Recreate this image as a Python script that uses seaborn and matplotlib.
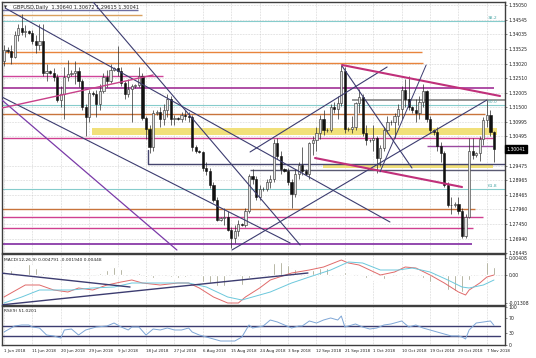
import numpy as np
import matplotlib
matplotlib.use("Agg")
import matplotlib.pyplot as plt
import matplotlib.transforms as mtransforms
import seaborn as sns

# ---------------- data (GBPUSD daily, bars incl. Sunday bars) ----------------
opens = [1.3310, 1.3350, 1.3345, 1.3325, 1.3400, 1.3425, 1.3410, 1.3415, 1.3408, 1.3380,
         1.3365, 1.3380, 1.3270, 1.3275, 1.3270, 1.3255, 1.3175, 1.3195, 1.3255, 1.3265,
         1.3270, 1.3275, 1.3240, 1.3150, 1.3115, 1.3200, 1.3195, 1.3160, 1.3205, 1.3255,
         1.3240, 1.3280, 1.3285, 1.3275, 1.3235, 1.3195, 1.3215, 1.3225, 1.3228, 1.3260,
         1.3113, 1.3075, 1.3012, 1.3130, 1.3135, 1.3110, 1.3140, 1.3180, 1.3110, 1.3112,
         1.3110, 1.3125, 1.3120, 1.3118, 1.3012, 1.2998, 1.2995, 1.2940, 1.2930, 1.2880,
         1.2830, 1.2760, 1.2765, 1.2770, 1.2725, 1.2695, 1.2720, 1.2745, 1.2742, 1.2790,
         1.2910, 1.2900, 1.2838, 1.2865, 1.2868, 1.2890, 1.2900, 1.3025, 1.2980, 1.2935,
         1.2930, 1.2890, 1.2850, 1.2920, 1.2950, 1.2928, 1.2920, 1.3025, 1.3035, 1.3060,
         1.3110, 1.3070, 1.3073, 1.3150, 1.3145, 1.3165, 1.3275, 1.3075, 1.3076, 1.3080,
         1.3165, 1.3185, 1.3060, 1.3035, 1.3038, 1.3045, 1.2975, 1.3010, 1.3070, 1.3100,
         1.3098, 1.3120, 1.3145, 1.3210, 1.3180, 1.3150, 1.3140, 1.3130, 1.3170, 1.3205,
         1.3110, 1.3070, 1.3065, 1.3015, 1.2990, 1.2880, 1.2810, 1.2812, 1.2815, 1.2790,
         1.2705, 1.2770, 1.3000, 1.2985, 1.2990, 1.3040, 1.3105, 1.3125, 1.30640]
highs = [1.3365, 1.3358, 1.3365, 1.3415, 1.3440, 1.3473, 1.3435, 1.3420, 1.3420, 1.3400,
         1.3440, 1.3440, 1.3300, 1.3280, 1.3285, 1.3265, 1.3225, 1.3290, 1.3315, 1.3280,
         1.3310, 1.3290, 1.3250, 1.3160, 1.3210, 1.3208, 1.3210, 1.3230, 1.3270, 1.3280,
         1.3300, 1.3290, 1.3363, 1.3290, 1.3240, 1.3250, 1.3230, 1.3232, 1.3290, 1.3270,
         1.3120, 1.3090, 1.3140, 1.3140, 1.3150, 1.3160, 1.3195, 1.3190, 1.3125, 1.3118,
         1.3135, 1.3140, 1.3135, 1.3125, 1.3020, 1.3002, 1.3000, 1.2960, 1.2940, 1.2890,
         1.2840, 1.2770, 1.2800, 1.2790, 1.2735, 1.2740, 1.2760, 1.2750, 1.2800, 1.2920,
         1.2935, 1.2910, 1.2880, 1.2872, 1.2900, 1.2915, 1.3040, 1.3043, 1.3000, 1.2940,
         1.2940, 1.2900, 1.2935, 1.2960, 1.3012, 1.2935, 1.3030, 1.3050, 1.3080, 1.3125,
         1.3140, 1.3078, 1.3160, 1.3170, 1.3190, 1.3298, 1.3290, 1.3082, 1.3120, 1.3170,
         1.3215, 1.3195, 1.3090, 1.3040, 1.3090, 1.3050, 1.3020, 1.3080, 1.3120, 1.3105,
         1.3130, 1.3160, 1.3225, 1.3250, 1.3258, 1.3155, 1.3180, 1.3190, 1.3230, 1.3210,
         1.3120, 1.3075, 1.3080, 1.3030, 1.3000, 1.2890, 1.2840, 1.2820, 1.2840, 1.2800,
         1.2780, 1.3045, 1.3045, 1.2995, 1.3050, 1.3115, 1.3175, 1.3140, 1.30672]
lows = [1.3295, 1.3340, 1.3300, 1.3320, 1.3380, 1.3400, 1.3395, 1.3405, 1.3370, 1.3340,
        1.3350, 1.3260, 1.3240, 1.3265, 1.3240, 1.3170, 1.3150, 1.3110, 1.3240, 1.3258,
        1.3230, 1.3220, 1.3140, 1.3050, 1.3100, 1.3190, 1.3115, 1.3140, 1.3200, 1.3220,
        1.3235, 1.3275, 1.3260, 1.3225, 1.3180, 1.3185, 1.3100, 1.3218, 1.3220, 1.3105,
        1.3040, 1.2990, 1.3000, 1.3125, 1.3080, 1.3090, 1.3115, 1.3090, 1.3090, 1.3105,
        1.3100, 1.3105, 1.3100, 1.3000, 1.2990, 1.2990, 1.2930, 1.2915, 1.2870, 1.2820,
        1.2755, 1.2755, 1.2740, 1.2720, 1.2662, 1.2680, 1.2705, 1.2738, 1.2735, 1.2785,
        1.2885, 1.2830, 1.2830, 1.2858, 1.2860, 1.2870, 1.2890, 1.2970, 1.2920, 1.2925,
        1.2880, 1.2800, 1.2840, 1.2900, 1.2915, 1.2915, 1.2900, 1.2985, 1.3000, 1.3040,
        1.3055, 1.3065, 1.3065, 1.3130, 1.3110, 1.3155, 1.3060, 1.3068, 1.3060, 1.3070,
        1.3130, 1.3050, 1.3020, 1.3028, 1.3000, 1.2922, 1.2945, 1.3000, 1.3060, 1.3090,
        1.3045, 1.3090, 1.3110, 1.3150, 1.3140, 1.3130, 1.3100, 1.3110, 1.3150, 1.3100,
        1.3060, 1.3055, 1.3000, 1.2960, 1.2875, 1.2805, 1.2780, 1.2805, 1.2780, 1.2696,
        1.2695, 1.2765, 1.2970, 1.2978, 1.2965, 1.3020, 1.3080, 1.3050, 1.29615]
closes = [1.3350, 1.3345, 1.3325, 1.3400, 1.3425, 1.3410, 1.3415, 1.3408, 1.3380, 1.3365,
          1.3380, 1.3270, 1.3275, 1.3270, 1.3255, 1.3175, 1.3195, 1.3255, 1.3265, 1.3270,
          1.3275, 1.3240, 1.3150, 1.3115, 1.3200, 1.3195, 1.3160, 1.3205, 1.3255, 1.3240,
          1.3280, 1.3285, 1.3275, 1.3235, 1.3195, 1.3215, 1.3225, 1.3228, 1.3260, 1.3113,
          1.3075, 1.3012, 1.3130, 1.3135, 1.3110, 1.3140, 1.3180, 1.3110, 1.3112, 1.3110,
          1.3125, 1.3120, 1.3118, 1.3012, 1.2998, 1.2995, 1.2940, 1.2930, 1.2880, 1.2830,
          1.2760, 1.2765, 1.2770, 1.2725, 1.2695, 1.2720, 1.2745, 1.2742, 1.2790, 1.2910,
          1.2900, 1.2838, 1.2865, 1.2868, 1.2890, 1.2900, 1.3025, 1.2980, 1.2935, 1.2930,
          1.2890, 1.2850, 1.2920, 1.2950, 1.2928, 1.2920, 1.3025, 1.3035, 1.3060, 1.3110,
          1.3070, 1.3073, 1.3150, 1.3145, 1.3165, 1.3275, 1.3075, 1.3076, 1.3080, 1.3165,
          1.3185, 1.3060, 1.3035, 1.3038, 1.3045, 1.2975, 1.3010, 1.3070, 1.3100, 1.3098,
          1.3120, 1.3145, 1.3210, 1.3180, 1.3150, 1.3140, 1.3130, 1.3170, 1.3205, 1.3110,
          1.3070, 1.3065, 1.3015, 1.2990, 1.2880, 1.2810, 1.2812, 1.2815, 1.2790, 1.2705,
          1.2770, 1.3000, 1.2985, 1.2990, 1.3040, 1.3105, 1.3125, 1.3064, 1.30041]

macd_hist = [0.0000, 0.0004, 0.0010, 0.0016, 0.0020, 0.0024, 0.0025, 0.0023, 0.0020, 0.0015,
             0.0010, 0.0005, 0.0003, 0.0002, 0.0001, -0.0002, -0.0002, 0.0000, 0.0002, 0.0002,
             0.0001, 0.0000, -0.0002, -0.0003, -0.0001, 0.0000, 0.0002, 0.0004, 0.0008, 0.0011,
             0.0014, 0.0016, 0.0016, 0.0013, 0.0010, 0.0008, 0.0006, 0.0005, 0.0004, 0.0000,
             -0.0004, -0.0008, -0.0006, -0.0005, -0.0005, -0.0004, -0.0002, -0.0004, -0.0005, -0.0005,
             -0.0004, -0.0004, -0.0004, -0.0008, -0.0010, -0.0010, -0.0013, -0.0014, -0.0016, -0.0019,
             -0.0022, -0.0022, -0.0022, -0.0024, -0.0026, -0.0024, -0.0020, -0.0019, -0.0014, -0.0006,
             0.0000, 0.0002, 0.0006, 0.0007, 0.0010, 0.0014, 0.0024, 0.0028, 0.0026, 0.0024,
             0.0020, 0.0014, 0.0012, 0.0010, 0.0008, 0.0006, 0.0008, 0.0010, 0.0012, 0.0014,
             0.0014, 0.0014, 0.0016, 0.0016, 0.0016, 0.0018, 0.0006, 0.0004, 0.0003, 0.0003,
             0.0002, -0.0002, -0.0006, -0.0008, -0.0010, -0.0014, -0.0012, -0.0008, -0.0004, -0.0002,
             0.0000, 0.0002, 0.0004, 0.0004, 0.0002, 0.0000, -0.0002, -0.0004, -0.0006, -0.0010,
             -0.0014, -0.0016, -0.0020, -0.0024, -0.0028, -0.0030, -0.0032, -0.0032, -0.0034, -0.0034,
             -0.0026, -0.0010, -0.0004, 0.0000, 0.0010, 0.0020, 0.0026, 0.0024, 0.0016]

macd_idx = [0, 6, 10, 14, 18, 21, 25, 29, 33, 36, 39, 44, 49, 52, 55, 59, 63, 66, 68, 72,
            75, 81, 86, 90, 95, 97, 100, 103, 106, 110, 113, 116, 120, 124, 128, 130, 131, 134, 136, 138]
macd_line = [-0.0044, -0.0020, -0.0020, -0.0030, -0.0034, -0.0026, -0.0030, -0.0020, -0.0014, -0.0010,
             -0.0016, -0.0020, -0.0016, -0.0016, -0.0026, -0.0044, -0.0056, -0.0056, -0.0044, -0.0026,
             -0.0010, 0.0004, 0.0010, 0.0016, 0.0030, 0.0024, 0.0020, 0.0010, 0.0000, 0.0006,
             0.0016, 0.0014, 0.0000, -0.0016, -0.0034, -0.0040, -0.0030, -0.0016, -0.0004, 0.0000]
signal_idx = [0, 5, 10, 14, 19, 25, 31, 36, 39, 46, 52, 57, 63, 67, 70, 75, 81, 86, 92, 97,
              101, 106, 111, 115, 120, 125, 129, 131, 135, 138]
signal_line = [-0.0056, -0.0044, -0.0030, -0.0030, -0.0030, -0.0026, -0.0024, -0.0016, -0.0016, -0.0016,
               -0.0016, -0.0024, -0.0044, -0.0050, -0.0044, -0.0034, -0.0016, -0.0004, 0.0010, 0.0026,
               0.0024, 0.0010, 0.0010, 0.0014, 0.0006, -0.0010, -0.0024, -0.0026, -0.0020, -0.0010]

rsi_idx = [0, 1, 3, 5, 7, 8, 10, 12, 14, 16, 17, 19, 21, 23, 26, 29, 31, 33, 35, 36,
           38, 40, 42, 44, 46, 48, 50, 52, 53, 55, 57, 59, 61, 63, 65, 67, 69, 70, 73, 75,
           77, 79, 81, 83, 84, 86, 88, 90, 92, 94, 95, 96, 98, 99, 101, 103, 105, 107, 109, 111,
           112, 114, 116, 118, 120, 122, 124, 126, 128, 129, 130, 131, 133, 135, 137, 138]
rsi_vals = [33.3, 38.7, 49.3, 52, 52, 46.7, 44, 25.3, 22.7, 17.3, 38.7, 41.3, 25.3, 38.7, 46.7, 49.3, 57.3, 46.7, 38.7, 46.7,
            46.7, 25.3, 41.3, 38.7, 44, 38.7, 38.7, 44, 33.3, 25.3, 20, 14.7, 9.3, 9.3, 9.3, 20, 52, 44, 49.3, 65.3,
            60, 52, 44, 49.3, 49.3, 62.7, 57.3, 65.3, 70.7, 65.3, 76, 46.7, 52, 54.7, 46.7, 41.3, 44, 52, 54.7, 60,
            62.7, 46.7, 52, 44, 38.7, 33.3, 28, 22.7, 22.7, 20, 14.7, 38.7, 57.3, 60, 62.7, 51.02]

date_labels = ["1 Jun 2018", "11 Jun 2018", "20 Jun 2018", "29 Jun 2018", "9 Jul 2018",
               "18 Jul 2018", "27 Jul 2018", "6 Aug 2018", "15 Aug 2018", "24 Aug 2018",
               "3 Sep 2018", "12 Sep 2018", "21 Sep 2018", "1 Oct 2018", "10 Oct 2018",
               "19 Oct 2018", "29 Oct 2018", "7 Nov 2018"]
price_ticks = [1.35050, 1.34545, 1.34035, 1.33525, 1.33020, 1.32510, 1.32005, 1.31500,
               1.30995, 1.30495, 1.29475, 1.28965, 1.28465, 1.27960, 1.27450, 1.26940, 1.26445]
last_price = 1.30041

fib_levels = [1.34495, 1.31581, 1.28666]
fib_names = ["38.2", "50.0", "61.8"]

# horizontal levels: price, from bar, to bar, colour, width
levels = [
    (1.34877, -1, 37.7, '#6d6da0', 1.0),
    (1.34704, -1, 38.9, '#d9a05e', 1.0),
    (1.33420, -1, 117.7, '#e8843c', 1.0),
    (1.33038, -1, 118.0, '#e8843c', 1.0),
    (1.32587, -1, 44.8, '#d0459a', 1.0),
    (1.32170, -1, 138.0, '#a8409e', 1.3),
    (1.31754, 98, 142, '#8e8e8e', 1.3),
    (1.31268, -1, 135.5, '#c8743c', 1.0),
    (1.30435, -1, 137.7, '#d04090', 1.0),
    (1.30158, 119.2, 137.7, '#9a4aa0', 1.0),
    (1.29533, 40.6, 142, '#45456e', 1.0),
    (1.29325, 69.3, 142, '#5a5a72', 1.0),
    (1.27972, -1, 132.7, '#c8743c', 1.0),
    (1.27694, -1, 135.0, '#d04090', 1.0),
    (1.27312, -1, 132.0, '#d04090', 1.0),
    (1.26757, -1, 131.8, '#8a3aa8', 1.3),
]
bands = [(1.30539, 1.30782, 24.8, 138.9), (1.29394, 1.29533, 89.9, 137.7)]

navy = '#3c3c70'
trendlines = [
    (0.3, 1.34946, 108.7, 1.27521, navy, 0.8),
    (25.1, 1.35155, 83.4, 1.26723, navy, 0.8),
    (-0.6, 1.31858, 80.6, 1.26792, navy, 0.8),
    (-0.6, 1.31754, 48.7, 1.26549, '#7a3aa8', 0.9),
    (-0.6, 1.31476, 42.0, 1.32621, '#c8408a', 1.0),
    (69.3, 1.29950, 107.9, 1.32899, navy, 0.8),
    (64.2, 1.26549, 136.0, 1.31754, navy, 0.8),
    (95.2, 1.32934, 114.9, 1.29394, navy, 0.8),
    (95.2, 1.32969, 139.7, 1.31893, '#c0307a', 1.5),
    (87.6, 1.29741, 129.0, 1.28735, '#c0307a', 1.5),
    (105.9, 1.29256, 118.9, 1.32969, navy, 0.7),
]

# ---------------- figure ----------------
sns.set_style("white")
plt.rcParams['font.family'] = ['DejaVu Sans']

W, H = 536, 358
fig = plt.figure(figsize=(W / 100, H / 100), dpi=100, facecolor='white')


def box(x0, y0, x1, y1):
    return [x0 / W, 1 - y1 / H, (x1 - x0) / W, (y1 - y0) / H]


ax = fig.add_axes(box(2, 2, 505, 253))
axm = fig.add_axes(box(2, 254, 505, 305), sharex=ax)
axr = fig.add_axes(box(2, 306, 505, 345), sharex=ax)

n = len(closes)
x = np.arange(n)
o = np.array(opens); c = np.array(closes); h = np.array(highs); l = np.array(lows)

teal = '#86cccc'
# bands and levels
for lo, hi, b0, b1 in bands:
    ax.fill_between([b0, b1], lo, hi, color='#f1e07a', lw=0, zorder=1)
for p, b0, b1, col, lw in levels:
    ax.plot([b0, b1], [p, p], color=col, lw=lw, zorder=2, solid_capstyle='butt')
for p, name in zip(fib_levels, fib_names):
    ax.plot([-1, 142], [p, p], color=teal, lw=0.8, zorder=2)
    ax.text(136.3, p + 0.0002, name, color='#4aa6a6', fontsize=3.2, ha='left', va='bottom', zorder=6)
ax.plot([40.6, 40.6], [1.29533, 1.30019], color='#45456e', lw=1.0, zorder=2)

# candles
ax.vlines(x, l, h, color='#2b2b2b', lw=0.5, zorder=3)
up = c >= o
bottom = np.minimum(o, c)
height = np.maximum(np.abs(c - o), 0.00006)
ax.bar(x[up], height[up], bottom=bottom[up], width=0.62, color='#e4e4e4',
       edgecolor='#2b2b2b', linewidth=0.4, zorder=4)
ax.bar(x[~up], height[~up], bottom=bottom[~up], width=0.62, color='#111111',
       edgecolor='#111111', linewidth=0.4, zorder=4)

for b0, p0, b1, p1, col, lw in trendlines:
    ax.plot([b0, b1], [p0, p1], color=col, lw=lw, zorder=5)

ax.set_ylim(1.264449, 1.351546)
ax.set_yticks(price_ticks)
ax.set_yticklabels([f"{v:.5f}" for v in price_ticks])

trans = mtransforms.blended_transform_factory(ax.transAxes, ax.transData)
ax.text(1.003, last_price, f"{last_price:.5f}", transform=trans, fontsize=3.3, color='white',
        va='center', ha='left', zorder=10, clip_on=False,
        bbox=dict(boxstyle='square,pad=0.3', fc='black', ec='black'))
ax.text(0.004, 0.988, "\u25bc", transform=ax.transAxes, fontsize=2.8, va='top', ha='left', color='#333')
ax.text(0.022, 0.99, "GBPUSD,Daily  1.30640 1.30672 1.29615 1.30041", transform=ax.transAxes,
        fontsize=3.6, va='top', ha='left', color='#222')

# MACD panel
axm.bar(x, macd_hist, width=0.38, color='#8c8c70', zorder=3)
sns.lineplot(x=macd_idx, y=macd_line, ax=axm, color='#e06a6a', lw=0.7, zorder=4)
sns.lineplot(x=signal_idx, y=signal_line, ax=axm, color='#6cc8dc', lw=0.7, zorder=4)
axm.plot([-1, 85.6], [-0.0060, 0.0004], color=navy, lw=1.0, zorder=5)
axm.plot([-1, 35.5], [0.0004, -0.0024], color=navy, lw=1.0, zorder=5)
axm.set_ylim(-0.0060, 0.0042)
axm.set_yticks([0.0034, 0.0, -0.0056])
axm.set_yticklabels(["0.00408", "0.00", "-0.01308"])
axm.text(0.004, 0.93, "MACD(12,26,9) 0.004791 -0.001940 0.00448", transform=axm.transAxes,
         fontsize=3.2, va='top', ha='left', color='#222')

# RSI panel
for lvl in (50, 22):
    axr.plot([-1, 139.7], [lvl, lvl], color=navy, lw=1.0, zorder=2)
sns.lineplot(x=rsi_idx, y=rsi_vals, ax=axr, color='#7ea6d6', lw=0.7, zorder=4)
axr.set_ylim(-1.33, 102.67)
axr.set_yticks([100, 70, 30, 0])
axr.set_yticklabels(["100", "70", "30", "0"])
axr.text(0.004, 0.93, "RSI(9) 51.0201", transform=axr.transAxes,
         fontsize=3.2, va='top', ha='left', color='#222')

# common styling
grid_kw = dict(color='#bdbdbd', lw=0.45, linestyle=(0, (1, 1.5)))
for a in (ax, axm, axr):
    a.set_facecolor('white')
    a.set_xlabel(''); a.set_ylabel('')
    a.yaxis.tick_right()
    a.tick_params(axis='y', direction='out', length=1.5, width=0.4, labelsize=3.3, pad=1.2, colors='#222')
    for s in a.spines.values():
        s.set_color('#3e3e3e'); s.set_linewidth(1.0)
    a.grid(True, axis='x', **grid_kw)
    a.set_axisbelow(True)
ax.grid(True, axis='y', **grid_kw)
axm.axhline(0, **grid_kw)

axr.set_xticks(np.arange(0, 8 * len(date_labels), 8))
axr.set_xticklabels(date_labels)
for t in axr.get_xticklabels():
    t.set_ha('left')
axr.tick_params(axis='x', direction='out', length=1.5, width=0.4, labelsize=2.9, pad=1.5, colors='#222')
ax.tick_params(axis='x', length=0, labelbottom=False)
axm.tick_params(axis='x', length=0, labelbottom=False)
ax.set_xlim(-0.56, 141.1)
if axm.get_legend():
    axm.get_legend().remove()

fig.savefig("out.png", dpi=100, facecolor='white')
